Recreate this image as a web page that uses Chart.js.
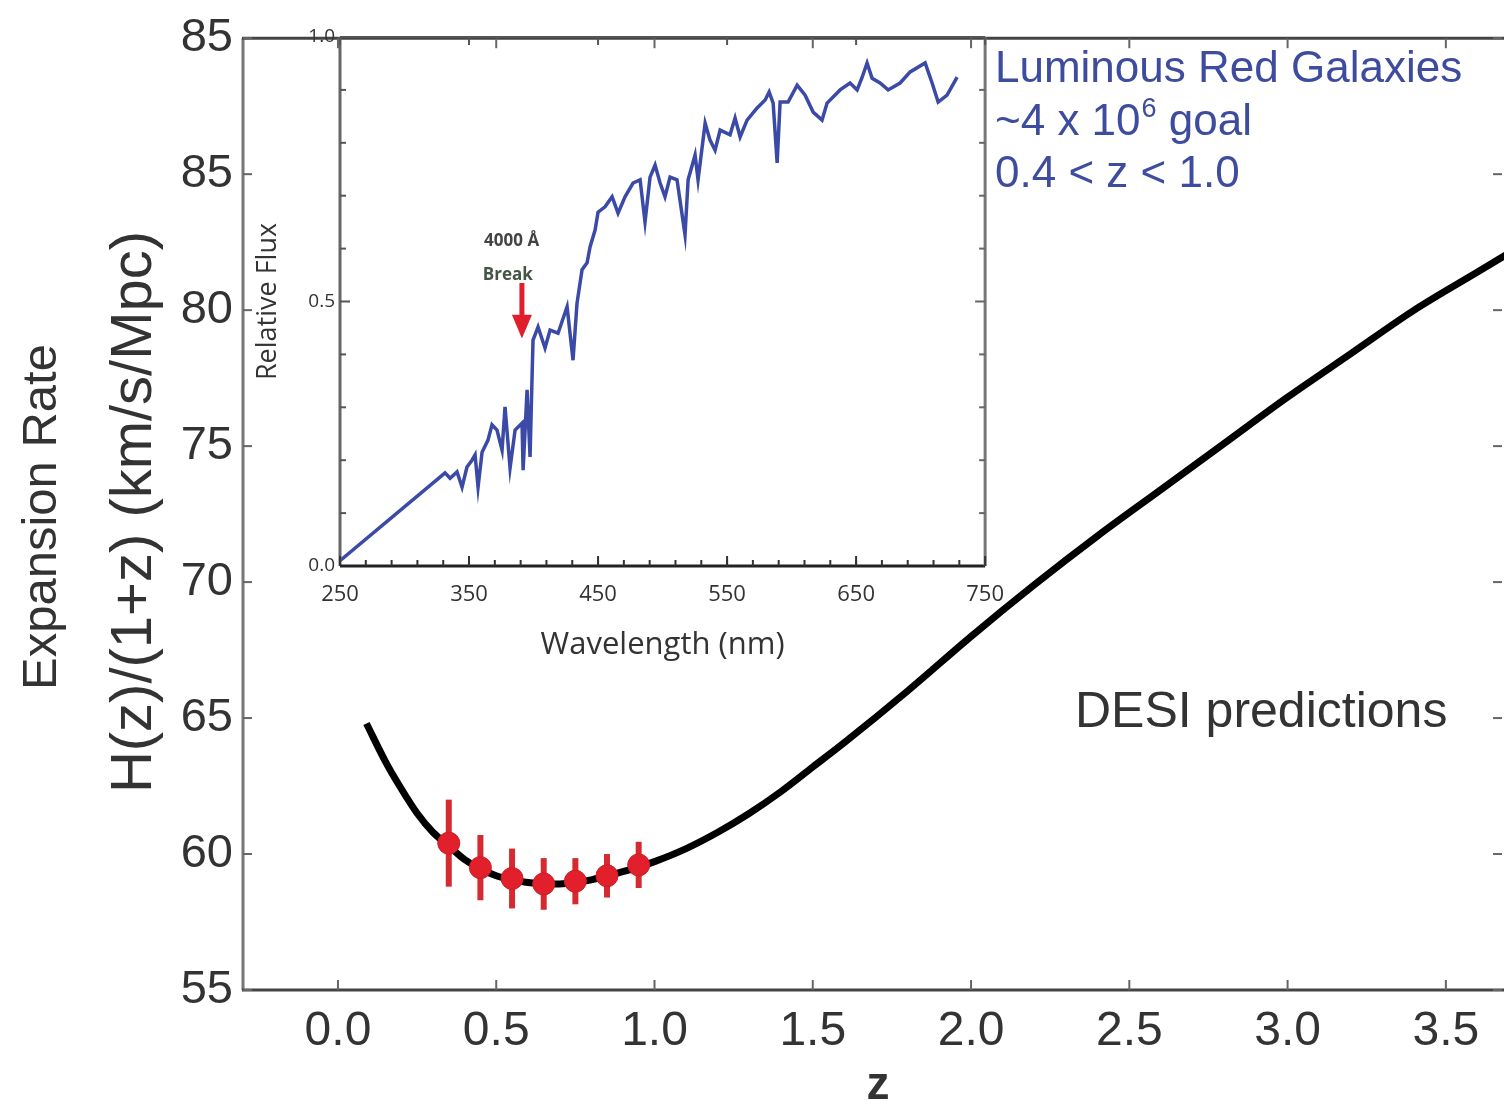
<!DOCTYPE html>
<html>
<head>
<meta charset="utf-8">
<script src="https://cdn.jsdelivr.net/npm/chart.js@4.4.1/dist/chart.umd.min.js"></script>
<style>
  body { margin: 0; background: #fff; }
  #wrap { position: relative; width: 1504px; height: 1114px; overflow: hidden; }
  #main { position: absolute; left: 0; top: 0; }
  #inset { position: absolute; left: 240px; top: 0; }
</style>
</head>
<body>
<div id="wrap">
  <canvas id="main" width="1518" height="1114"></canvas>
  <canvas id="inset" width="780" height="680"></canvas>
</div>
<script>
const FONT = "'Liberation Sans', Arial, sans-serif";
const INSET_FONT = "'Open Sans', 'DejaVu Sans', sans-serif";
const INK = '#333';
const BLUE = '#3d4c9e';
const RED = '#e2202b';

// main panel: H(z)/(1+z) curve and DESI LRG points
const Z_CURVE = [0.09, 0.15, 0.2, 0.25, 0.3, 0.35, 0.4, 0.45, 0.5, 0.55, 0.6, 0.65, 0.7, 0.75, 0.8, 0.85, 0.9, 0.95, 1.0,
  1.1, 1.2, 1.3, 1.4, 1.5, 1.6, 1.8, 2.0, 2.2, 2.4, 2.6, 2.8, 3.0, 3.2, 3.4, 3.6, 3.7];
const H_CURVE = [64.8, 63.4, 62.4, 61.5, 60.8, 60.3, 59.8, 59.45, 59.2, 59.05, 58.95, 58.9, 58.9, 58.95, 59.05, 59.2, 59.35, 59.52, 59.72,
  60.2, 60.8, 61.5, 62.3, 63.2, 64.1, 66.0, 68.0, 69.9, 71.7, 73.4, 75.1, 76.8, 78.4, 80.0, 81.4, 82.1];
const Z_POINTS = [0.35, 0.45, 0.55, 0.65, 0.75, 0.85, 0.95];
const H_POINTS = [60.4, 59.5, 59.1, 58.9, 59.0, 59.2, 59.6];
const H_ERR = [1.6, 1.2, 1.1, 0.95, 0.85, 0.8, 0.85];
const X_TICKS = [0, 0.5, 1.0, 1.5, 2.0, 2.5, 3.0, 3.5];
const Y_TICKS = [55, 60, 65, 70, 75, 80, 85, 90];
const Y_TICK_LABELS = ['55', '60', '65', '70', '75', '80', '85', '85'];

// inset: LRG spectrum
const WAVELENGTH = [250, 327.5, 331.4, 335.3, 340.7, 344.6, 348.4, 352.3, 354.7, 357.0, 360.1, 364.7, 367.8, 371.7, 375.6,
  377.9, 381.8, 385.7, 391.1, 391.9, 395.0, 397.3, 398.8, 399.6, 403.5, 408.9, 412.8, 419.0, 426.0, 430.6, 433.7,
  437.6, 441.5, 443.8, 447.7, 450.0, 455.4, 460.9, 465.5, 470.9, 477.1, 482.6, 486.4, 490.3, 494.2, 498.1, 501.9,
  505.8, 511.2, 517.4, 519.8, 525.2, 527.5, 533.0, 536.8, 540.7, 544.6, 552.3, 556.2, 560.1, 565.5, 573.3, 579.5,
  582.6, 585.7, 588.8, 591.1, 597.3, 604.3, 610.5, 616.7, 623.6, 627.5, 637.6, 645.3, 650.8, 654.7, 658.5, 662.4,
  668.6, 674.8, 684.1, 691.9, 703.5, 708.9, 713.6, 720.5, 728.3];
const FLUX = [0.01, 0.168, 0.176, 0.166, 0.178, 0.149, 0.187, 0.200, 0.210, 0.149, 0.215, 0.238, 0.267, 0.257, 0.219,
  0.301, 0.185, 0.257, 0.270, 0.181, 0.333, 0.206, 0.352, 0.427, 0.452, 0.412, 0.446, 0.440, 0.490, 0.389, 0.497,
  0.560, 0.573, 0.603, 0.635, 0.669, 0.679, 0.698, 0.667, 0.698, 0.724, 0.730, 0.650, 0.735, 0.758, 0.724, 0.698,
  0.735, 0.730, 0.626, 0.730, 0.777, 0.730, 0.837, 0.805, 0.786, 0.824, 0.815, 0.847, 0.811, 0.843, 0.866, 0.881,
  0.896, 0.875, 0.762, 0.877, 0.877, 0.909, 0.890, 0.858, 0.843, 0.875, 0.900, 0.913, 0.900, 0.924, 0.951, 0.922,
  0.913, 0.900, 0.913, 0.934, 0.951, 0.913, 0.877, 0.890, 0.924];
const INSET_X_TICKS = [250, 350, 450, 550, 650, 750];
const INSET_Y_TICKS = [0, 0.5, 1.0];
const BREAK_LAMBDA = 391;

function line(ctx, x1, y1, x2, y2, color, w) {
  ctx.beginPath();
  ctx.moveTo(x1, y1);
  ctx.lineTo(x2, y2);
  ctx.strokeStyle = color;
  ctx.lineWidth = w;
  ctx.stroke();
}

function text(ctx, str, x, y, font, color, rot, align) {
  ctx.save();
  ctx.translate(x, y);
  if (rot) ctx.rotate(rot);
  ctx.font = font;
  ctx.fillStyle = color;
  ctx.textAlign = align || 'center';
  ctx.textBaseline = 'middle';
  ctx.fillText(str, 0, 0);
  ctx.restore();
}

const mainDecor = {
  id: 'mainDecor',
  afterDatasetDraw(chart, args) {
    if (args.index !== 0) return;
    const { ctx, scales: { x, y } } = chart;
    ctx.save();
    Z_POINTS.forEach((z, i) => {
      const px = x.getPixelForValue(z);
      line(ctx, px, y.getPixelForValue(H_POINTS[i] - H_ERR[i]), px, y.getPixelForValue(H_POINTS[i] + H_ERR[i]), '#d42a30', 6);
    });
    ctx.restore();
  },
  afterDraw(chart) {
    const { ctx, chartArea: a, scales: { x, y } } = chart;
    const right = 1502;
    ctx.save();
    // frame
    line(ctx, a.left, a.top, a.left, a.bottom, '#777', 3);
    line(ctx, a.left - 1, a.bottom, a.right, a.bottom, '#444', 3);
    line(ctx, a.left - 1, a.top, a.right, a.top, '#444', 3);
    // inward ticks
    Y_TICKS.forEach(v => {
      const py = y.getPixelForValue(v);
      line(ctx, a.left, py, a.left + 9, py, '#666', 2);
      line(ctx, right, py, right - 9, py, '#666', 2);
    });
    X_TICKS.forEach(v => {
      const px = x.getPixelForValue(v);
      line(ctx, px, a.bottom, px, a.bottom - 10, '#666', 2);
      line(ctx, px, a.top, px, a.top + 10, '#666', 2);
    });
    // axis titles
    text(ctx, 'Expansion Rate', 42, 517, `49px ${FONT}`, INK, -Math.PI / 2);
    text(ctx, 'H(z)/(1+z) (km/s/Mpc)', 135, 512, `58px ${FONT}`, INK, -Math.PI / 2);
    text(ctx, 'z', 878, 1086, `bold 46px ${FONT}`, INK);
    // annotations
    text(ctx, 'DESI predictions', 1075, 713, `50px ${FONT}`, INK, 0, 'left');
    const f = `44px ${FONT}`;
    text(ctx, 'Luminous Red Galaxies', 995, 70, f, BLUE, 0, 'left');
    ctx.font = f;
    const w1 = ctx.measureText('~4 x 10').width;
    text(ctx, '~4 x 10', 995, 123, f, BLUE, 0, 'left');
    text(ctx, '6', 995 + w1 + 1, 110, `27px ${FONT}`, BLUE, 0, 'left');
    text(ctx, ' goal', 995 + w1 + 16, 123, f, BLUE, 0, 'left');
    text(ctx, '0.4 < z < 1.0', 995, 175, f, BLUE, 0, 'left');
    ctx.restore();
  },
};

new Chart(document.getElementById('main'), {
  type: 'scatter',
  data: {
    datasets: [
      {
        data: Z_CURVE.map((z, i) => ({ x: z, y: H_CURVE[i] })),
        showLine: true,
        borderColor: '#000',
        borderWidth: 7,
        pointRadius: 0,
        cubicInterpolationMode: 'monotone',
        order: 2,
      },
      {
        data: Z_POINTS.map((z, i) => ({ x: z, y: H_POINTS[i] })),
        backgroundColor: RED,
        borderColor: '#c81e28',
        borderWidth: 1,
        pointRadius: 11,
        order: 1,
      },
    ],
  },
  options: {
    responsive: false,
    animation: false,
    events: [],
    layout: { padding: { top: 35, right: 0 } },
    plugins: { legend: { display: false }, tooltip: { enabled: false } },
    scales: {
      x: {
        type: 'linear', min: -0.3, max: 3.69,
        afterBuildTicks: s => { s.ticks = X_TICKS.map(v => ({ value: v })); },
        afterFit: s => { s.height = 124; },
        grid: { display: false, drawTicks: false },
        border: { display: false },
        ticks: { font: { size: 48, family: FONT }, color: INK, padding: 13, maxRotation: 0, autoSkip: false, callback: v => v.toFixed(1) },
      },
      y: {
        type: 'linear', min: 55, max: 90,
        afterBuildTicks: s => { s.ticks = Y_TICKS.map(v => ({ value: v })); },
        afterFit: s => { s.width = 243; },
        grid: { display: false, drawTicks: false },
        border: { display: false },
        ticks: { font: { size: 47, family: FONT }, color: INK, padding: 10, autoSkip: false, callback: (v, i) => Y_TICK_LABELS[i] },
      },
    },
  },
  plugins: [mainDecor],
});

const insetDecor = {
  id: 'insetDecor',
  afterDraw(chart) {
    const { ctx, chartArea: a, scales: { x, y } } = chart;
    ctx.save();
    line(ctx, a.left, a.top, a.left, a.bottom, '#666', 3);
    line(ctx, a.left, a.bottom, a.right, a.bottom, '#222', 3);
    line(ctx, a.right, a.top, a.right, a.bottom, '#777', 3);
    line(ctx, a.left, a.top, a.right, a.top, '#555', 2);
    for (let w = 270; w < 750; w += 20) {
      const px = x.getPixelForValue(w);
      line(ctx, px, a.bottom, px, a.bottom - 6, '#333', 2);
    }
    INSET_X_TICKS.forEach(v => {
      const px = x.getPixelForValue(v);
      line(ctx, px, a.bottom, px, a.bottom - 10, '#333', 2);
      line(ctx, px, a.top, px, a.top + 8, '#555', 2);
    });
    for (let k = 1; k < 10; k++) {
      const py = y.getPixelForValue(k / 10);
      const len = k === 5 ? 10 : 6;
      line(ctx, a.left, py, a.left + len, py, '#555', 2);
      line(ctx, a.right, py, a.right - len, py, '#666', 2);
    }
    text(ctx, 'Wavelength (nm)', (a.left + a.right) / 2, 645, `31px ${INSET_FONT}`, INK);
    text(ctx, 'Relative Flux', 28, y.getPixelForValue(0.5), `27px ${INSET_FONT}`, INK, -Math.PI / 2);
    // 4000 A break annotation
    const bx = x.getPixelForValue(BREAK_LAMBDA);
    text(ctx, '4000 Å', x.getPixelForValue(383), y.getPixelForValue(0.615), `bold 17px ${INSET_FONT}`, '#444');
    text(ctx, 'Break', x.getPixelForValue(380), y.getPixelForValue(0.55), `bold 17px ${INSET_FONT}`, '#445544');
    const top = y.getPixelForValue(0.535), tip = y.getPixelForValue(0.43), head = y.getPixelForValue(0.475);
    line(ctx, bx, top, bx, head + 2, '#e01e2c', 5);
    ctx.beginPath();
    ctx.moveTo(bx - 10, head);
    ctx.lineTo(bx + 10, head);
    ctx.lineTo(bx, tip);
    ctx.closePath();
    ctx.fillStyle = '#e01e2c';
    ctx.fill();
    ctx.restore();
  },
};

new Chart(document.getElementById('inset'), {
  type: 'scatter',
  data: {
    datasets: [{
      data: WAVELENGTH.map((w, i) => ({ x: w, y: FLUX[i] })),
      showLine: true,
      borderColor: '#3b4aa6',
      borderWidth: 3.5,
      pointRadius: 0,
      tension: 0,
    }],
  },
  options: {
    responsive: false,
    animation: false,
    events: [],
    layout: { padding: { top: 37, right: 0 } },
    plugins: { legend: { display: false }, tooltip: { enabled: false } },
    scales: {
      x: {
        type: 'linear', min: 250, max: 750,
        afterBuildTicks: s => { s.ticks = INSET_X_TICKS.map(v => ({ value: v })); },
        afterFit: s => { s.height = 114; },
        grid: { display: false, drawTicks: false },
        border: { display: false },
        ticks: { font: { size: 22, family: INSET_FONT }, color: INK, padding: 16, maxRotation: 0, autoSkip: false },
      },
      y: {
        type: 'linear', min: 0, max: 1,
        afterBuildTicks: s => { s.ticks = INSET_Y_TICKS.map(v => ({ value: v })); },
        afterFit: s => { s.width = 100; },
        grid: { display: false, drawTicks: false },
        border: { display: false },
        ticks: { font: { size: 19, family: INSET_FONT }, color: INK, padding: 5, autoSkip: false, callback: v => v.toFixed(1) },
      },
    },
  },
  plugins: [insetDecor],
});
</script>
</body>
</html>
